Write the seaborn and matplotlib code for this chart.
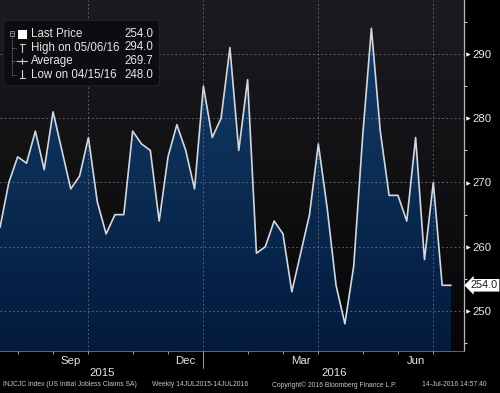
import numpy as np
import pandas as pd
import matplotlib
matplotlib.use("Agg")
import matplotlib.pyplot as plt
import matplotlib.dates as mdates
from matplotlib.colors import LinearSegmentedColormap
from matplotlib.patches import FancyBboxPatch, Rectangle
import seaborn as sns

# weekly initial jobless claims (thousands), Friday dates from 17 Jul 2015
start_date = "2015-07-17"
claims = [263, 270, 274, 273, 278, 272, 281, 275, 269, 271, 277, 267, 262,
          265, 265, 278, 276, 275, 264, 274, 279, 275, 269, 285, 277, 280,
          291, 275, 286, 259, 260, 264, 262, 253, 259, 265, 276, 266, 254,
          248, 257, 277, 294, 278, 268, 268, 264, 277, 258, 270, 254, 254]
y_ticks = [250, 260, 270, 280, 290]
y_minor = [245, 255, 265, 275, 285, 295]
month_labels = ["Sep", "Dec", "Mar", "Jun"]
month_label_dates = ["2015-09-11", "2015-12-11", "2016-03-11", "2016-06-10"]
month_end_fridays = ["2015-07-31", "2015-08-28", "2015-09-25", "2015-10-30",
                     "2015-11-27", "2015-12-25", "2016-01-29", "2016-02-26",
                     "2016-03-25", "2016-04-29", "2016-05-27", "2016-06-24"]
quarter_dates = ["2015-09-25", "2015-12-25", "2016-03-25", "2016-06-24"]
year_labels = ["2015", "2016"]
legend_names = ["Last Price", "High on 05/06/16", "Average", "Low on 04/15/16"]
legend_values = ["254.0", "294.0", "269.7", "248.0"]
last_label = "254.0"
footer = ["INJCJC Index (US Initial Jobless Claims SA)",
          "Weekly 14JUL2015-14JUL2016",
          "Copyright\u00a9 2016 Bloomberg Finance L.P.",
          "14-Jul-2016 14:57:40"]

sns.set_theme(style="dark")
plt.rcParams["font.family"] = ["Liberation Sans", "DejaVu Sans"]

W, H = 500, 393
fig = plt.figure(figsize=(W / 100, H / 100), dpi=100, facecolor="black")
ax_bottom = 351
ax = fig.add_axes([0, 1 - ax_bottom / H, 464 / W, ax_bottom / H])
ax.set_facecolor("black")

dates = pd.date_range(start_date, periods=len(claims), freq="7D")
xlim = (pd.Timestamp("2015-07-17"), pd.Timestamp("2016-07-18 07:00"))
px_per_unit = 6.425
ylim = (250 - (ax_bottom - 311) / px_per_unit, 250 + 311 / px_per_unit)
x0n, x1n = mdates.date2num(xlim[0]), mdates.date2num(xlim[1])

# background gradient
bg = LinearSegmentedColormap.from_list("bg", ["#060608", "#1c1c20"])
ax.imshow(np.linspace(0, 1, 256)[::-1].reshape(-1, 1), cmap=bg, aspect="auto",
          extent=[x0n, x1n, ylim[0], ylim[1]], zorder=0)

# gradient area fill clipped to the series
poly = ax.fill_between(dates, claims, ylim[0], color="none", lw=0)
fillmap = LinearSegmentedColormap.from_list("fill", ["#031a3d", "#15406c"])
grad = ax.imshow(np.linspace(0, 1, 256)[::-1].reshape(-1, 1), cmap=fillmap,
                 aspect="auto", extent=[x0n, x1n, ylim[0], ylim[1]], zorder=1)
grad.set_clip_path(poly.get_paths()[0], ax.transData)

sns.lineplot(x=dates, y=claims, color="#d2d8e0", linewidth=1.2, ax=ax, zorder=4)

# dotted grid
for v in y_ticks:
    ax.axhline(v, color="#70747c", lw=0.6, ls=(0, (2, 3)), zorder=3)
for d in quarter_dates:
    ax.axvline(pd.Timestamp(d), color="#70747c", lw=0.6, ls=(0, (2, 3)), zorder=3)

ax.set_xlim(*xlim)
ax.set_ylim(*ylim)
ax.grid(False)

# y axis on right
ax.yaxis.tick_right()
ax.set_yticks(y_ticks)
ax.set_yticks(y_minor, minor=True)
ax.tick_params(axis="y", which="major", length=0, pad=6, labelsize=8.2,
               labelcolor="#e8e8e8")
ax.tick_params(axis="y", which="minor", length=2, width=0.8, color="#d0d0d0",
               direction="out", right=True, left=False)

# x axis
ax.set_xticks([pd.Timestamp(d) for d in month_label_dates])
ax.set_xticklabels(month_labels)
ax.set_xticks([pd.Timestamp(d) for d in month_end_fridays], minor=True)
ax.tick_params(axis="x", which="major", length=0, pad=3.5, labelsize=8.2,
               labelcolor="#e8e8e8")
ax.tick_params(axis="x", which="minor", length=2.5, width=0.7, color="#a0a0a0",
               direction="out", bottom=True)
ax.set_xlabel("")
ax.set_ylabel("")

for s in ["top", "left"]:
    ax.spines[s].set_visible(False)
ax.spines["right"].set_color("#b8b8b8")
ax.spines["right"].set_linewidth(0.9)
ax.spines["bottom"].set_color("#707880")
ax.spines["bottom"].set_linewidth(0.6)

# overlay in pixel coordinates
ov = fig.add_axes([0, 0, 1, 1])
ov.set_xlim(0, W)
ov.set_ylim(H, 0)
ov.axis("off")
ov.patch.set_alpha(0)
ov.set_zorder(5)

def ypx(v):
    return 311 - (v - 250) * px_per_unit

def xpx(d):
    return (mdates.date2num(pd.Timestamp(d)) - x0n) / (x1n - x0n) * 464

# major tick triangles
ov.scatter([468] * len(y_ticks), [ypx(v) for v in y_ticks], marker=">", s=10,
           color="white", lw=0)

# last price tag
ov.text(484.5, ypx(claims[-1]), last_label, ha="center", va="center",
        fontsize=7.8, color="#1a1a1a",
        bbox=dict(boxstyle="larrow,pad=0.12", fc="white", ec="none"))

# year labels and separator
sep = xpx("2015-12-25")
ov.plot([sep, sep], [ax_bottom + 2, 368], color="#a0a0a0", lw=0.7)
ov.text(sep / 2, 372.5, year_labels[0], ha="center", va="center",
        fontsize=8.2, color="#e8e8e8")
ov.text((sep + 464) / 2, 372.5, year_labels[1], ha="center", va="center",
        fontsize=8.2, color="#e8e8e8")

# footer
for xp, txt in zip([3, 152, 272, 422], footer):
    ov.text(xp, 385, txt, ha="left", va="center", fontsize=4.9, color="#c8c8c8")

# legend box
ov.add_patch(FancyBboxPatch((3.5, 20.5), 156, 65.5,
                            boxstyle="round,pad=0,rounding_size=3",
                            fc="#0d0d11", ec="#222227", lw=0.8))
gray = "#9a9a9a"
ov.add_patch(Rectangle((9.5, 31), 4.5, 4.5, fc="none", ec=gray, lw=0.6))
ov.plot([10.5, 13], [33.25, 33.25], color=gray, lw=0.6)
ov.plot([11.75, 11.75], [35.5, 74.5], color=gray, lw=0.6, ls=(0, (1, 1)))
for yy in [47.5, 61, 74.5]:
    ov.plot([11.75, 16], [yy, yy], color=gray, lw=0.6, ls=(0, (1, 1)))
ov.add_patch(Rectangle((18, 29.5), 9, 9, fc="white", ec="none"))
ov.plot([19.5, 24.5], [43.5, 43.5], color="#d0d0d0", lw=0.8)
ov.plot([22, 22], [43.5, 51.5], color="#d0d0d0", lw=0.8)
ov.plot([17, 27], [61, 61], color="#d0d0d0", lw=0.8)
ov.plot([22], [61], marker="+", ms=4, mew=0.8, color="#d0d0d0")
ov.plot([22, 22], [70, 78], color="#d0d0d0", lw=0.8)
ov.plot([19.5, 24.5], [78, 78], color="#d0d0d0", lw=0.8)
for yy, name, val in zip([34, 47.5, 61, 74.5], legend_names, legend_values):
    ov.text(31, yy, name, ha="left", va="center", fontsize=8.3, color="#e6e6e6")
    ov.text(153, yy, val, ha="right", va="center", fontsize=8.3, color="#e6e6e6")

fig.savefig("out.png", dpi=100, facecolor="black")
